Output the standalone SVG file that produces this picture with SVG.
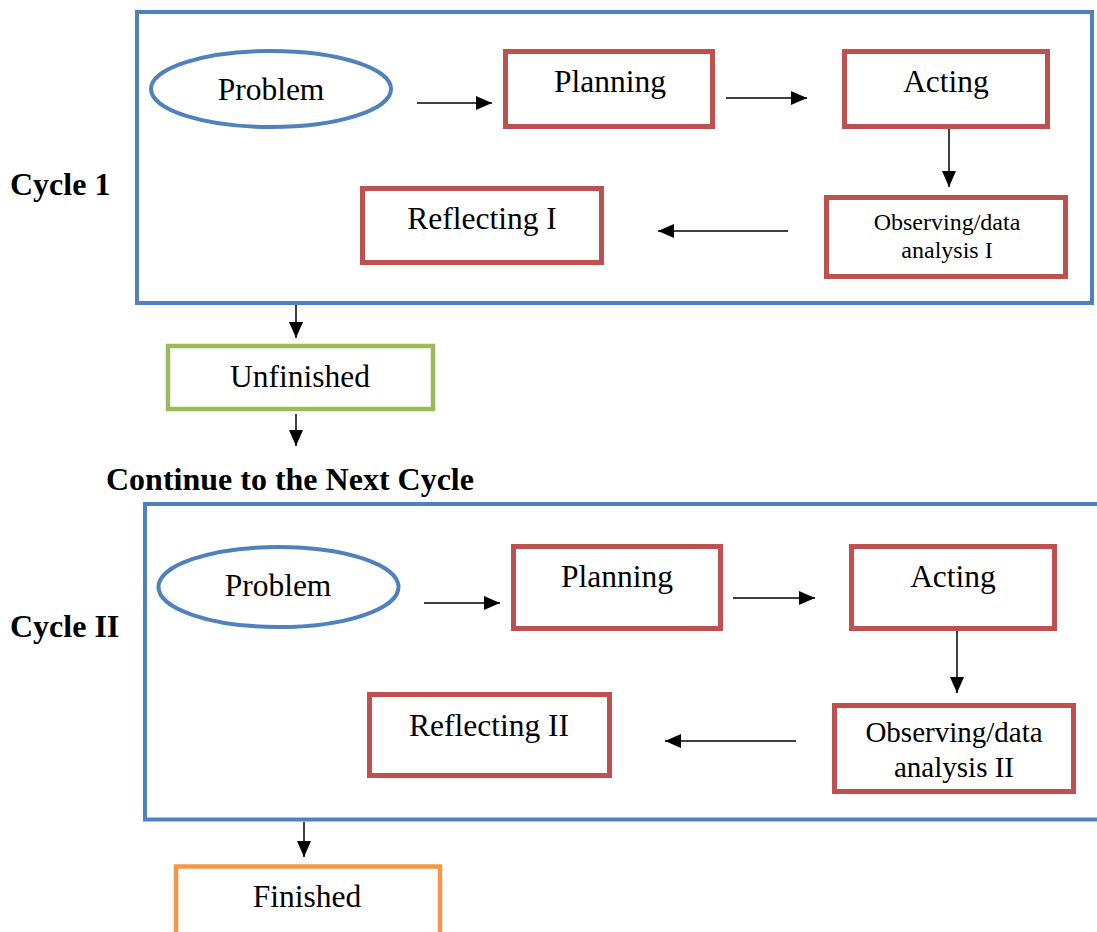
<svg xmlns="http://www.w3.org/2000/svg" width="1097" height="932" viewBox="0 0 1097 932">
<style>
text{font-family:"Liberation Serif","Times New Roman",serif;fill:#000;text-anchor:middle}
.lbl{font-size:31.5px}
.small{font-size:24px}
.mid{font-size:29px}
.bold{font-size:32px;font-weight:bold;text-anchor:start}
.frame{fill:none;stroke:#4F81BD;stroke-width:4}
.oval{fill:#fff;stroke:#4F81BD;stroke-width:4}
.step{fill:#fff;stroke:#C0504D;stroke-width:5}
.unf{fill:#fff;stroke:#9BBB59;stroke-width:4.5}
.fin{fill:#fff;stroke:#F79646;stroke-width:4.5}
.arr{fill:none;stroke:#000;stroke-width:1.5;marker-end:url(#ah)}
</style>
<defs>
<marker id="ah" viewBox="0 0 16 14" refX="16" refY="7" markerWidth="16" markerHeight="14" markerUnits="userSpaceOnUse" orient="auto">
<path d="M0,0 L16,7 L0,14 z" fill="#000"/>
</marker>
</defs>
<rect width="1097" height="932" fill="#fff"/>

<g id="cycle1-frame"><rect class="frame" x="137" y="12" width="955" height="291"/></g>
<g id="cycle1-label"><text class="bold" x="10" y="195">Cycle 1</text></g>
<g id="c1-problem"><ellipse class="oval" cx="271" cy="89" rx="120" ry="38"/><text class="lbl" x="271" y="100">Problem</text></g>
<g id="c1-planning"><rect class="step" x="505.5" y="51.5" width="207" height="75"/><text class="lbl" x="610" y="92">Planning</text></g>
<g id="c1-acting"><rect class="step" x="844.5" y="51.5" width="203" height="75"/><text class="lbl" x="946" y="92">Acting</text></g>
<g id="c1-observing"><rect class="step" x="826.5" y="197.5" width="239" height="79"/><text class="small" x="947" y="230">Observing/data</text><text class="small" x="947" y="258">analysis I</text></g>
<g id="c1-reflecting"><rect class="step" x="362.5" y="188.5" width="239" height="74"/><text class="lbl" x="482" y="229">Reflecting I</text></g>

<g id="unfinished"><rect class="unf" x="168" y="346" width="265" height="63"/><text class="lbl" x="300" y="387">Unfinished</text></g>
<g id="continue-label"><text class="bold" x="106" y="490">Continue to the Next Cycle</text></g>

<g id="cycle2-frame"><rect class="frame" x="145" y="504" width="1000" height="315.5"/></g>
<g id="cycle2-label"><text class="bold" x="10" y="637">Cycle II</text></g>
<g id="c2-problem"><ellipse class="oval" cx="278.5" cy="587" rx="120" ry="40"/><text class="lbl" x="278" y="596">Problem</text></g>
<g id="c2-planning"><rect class="step" x="513.5" y="546.5" width="207" height="82"/><text class="lbl" x="617" y="587">Planning</text></g>
<g id="c2-acting"><rect class="step" x="851.5" y="546.5" width="203" height="82"/><text class="lbl" x="953" y="587">Acting</text></g>
<g id="c2-observing"><rect class="step" x="834.5" y="705.5" width="239" height="86"/><text class="mid" x="954" y="742">Observing/data</text><text class="mid" x="954" y="777">analysis II</text></g>
<g id="c2-reflecting"><rect class="step" x="369.5" y="694.5" width="240" height="81"/><text class="lbl" x="489" y="736">Reflecting II</text></g>

<g id="finished"><rect class="fin" x="176" y="866.5" width="264" height="100"/><text class="lbl" x="307" y="907">Finished</text></g>

<g id="connectors">
<line class="arr" x1="417" y1="103" x2="492" y2="103"/>
<line class="arr" x1="726" y1="98" x2="807" y2="98"/>
<line class="arr" x1="949" y1="129" x2="949" y2="187"/>
<line class="arr" x1="788" y1="231" x2="658" y2="231"/>
<line class="arr" x1="296" y1="305" x2="296" y2="338"/>
<line class="arr" x1="296" y1="414" x2="296" y2="446"/>
<line class="arr" x1="424" y1="603" x2="500" y2="603"/>
<line class="arr" x1="733" y1="598" x2="815" y2="598"/>
<line class="arr" x1="957" y1="631" x2="957" y2="693"/>
<line class="arr" x1="796" y1="741" x2="665" y2="741"/>
<line class="arr" x1="304" y1="822" x2="304" y2="857"/>
</g>
</svg>
